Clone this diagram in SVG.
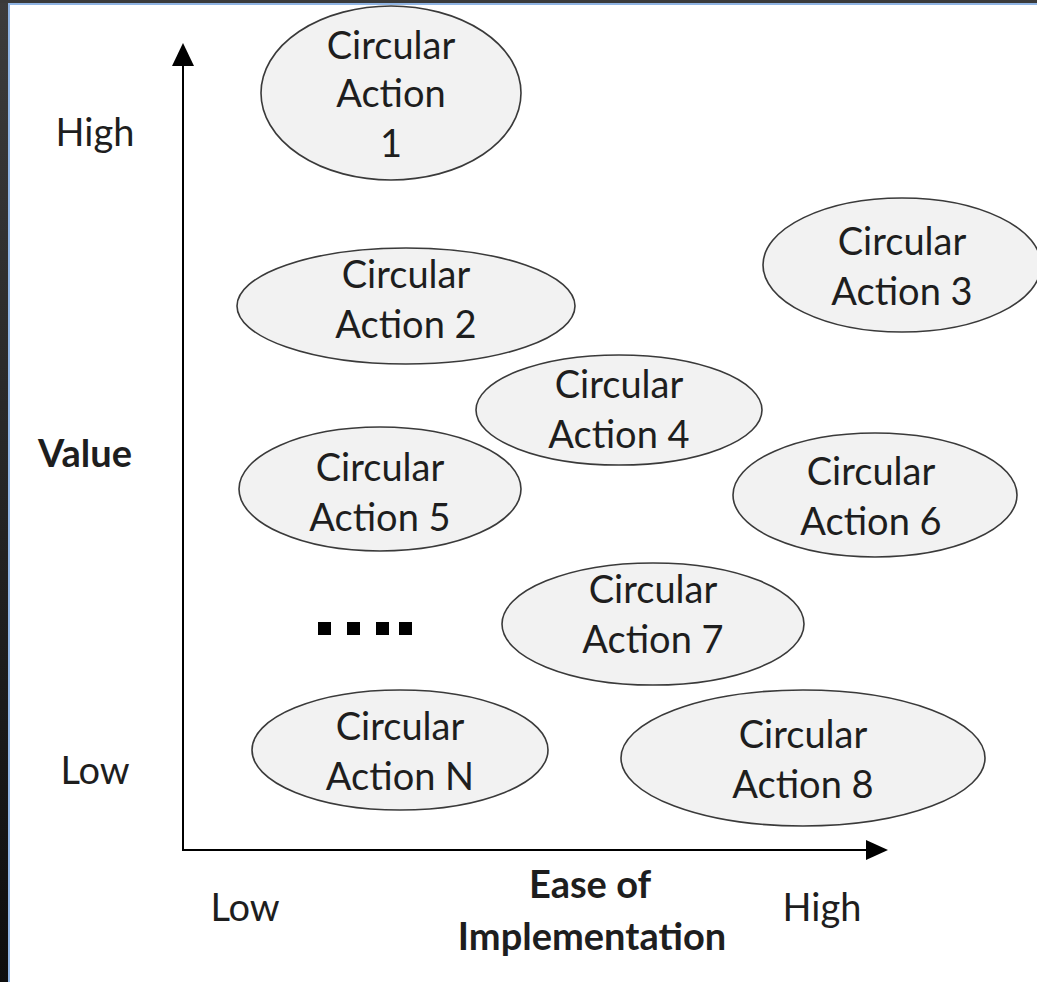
<svg xmlns="http://www.w3.org/2000/svg" width="1037" height="982" viewBox="0 0 1037 982">
<defs>
<style>
.node ellipse{fill:#f2f2f2;stroke:#3a3a3a;stroke-width:1.6}
.t{font-family:Lato,"Open Sans","Liberation Sans",sans-serif;font-size:38px;fill:#1e1e1e;text-anchor:middle}
.b{font-weight:bold}
.axis{stroke:#000;stroke-width:2;fill:none}
</style>
<linearGradient id="lg" x1="0" y1="0" x2="0" y2="1"><stop offset="0" stop-color="#3c3c3c"/><stop offset="1" stop-color="#0e0e0e"/></linearGradient>
</defs>
<rect width="1037" height="982" fill="#fff"/>
<rect x="0" y="0" width="8" height="982" fill="url(#lg)"/>
<rect x="0" y="0" width="1037" height="3" fill="#3a3a3a"/>
<rect x="8" y="3" width="2" height="979" fill="#8fb4e3"/>
<rect x="8" y="3" width="1029" height="2" fill="#8fb4e3"/>
<g id="connectors">
<line class="axis" x1="183" y1="851" x2="183" y2="46"/>
<path d="M172,66L183,43L194,66z" fill="#000"/>
<line class="axis" x1="182" y1="850" x2="868" y2="850"/>
<path d="M866,840L888,850L866,860z" fill="#000"/>
</g>
<g id="labels">
<text class="t" x="95" y="146">High</text>
<text class="t b" x="85" y="467">Value</text>
<text class="t" x="95" y="784">Low</text>
<text class="t" x="245" y="921">Low</text>
<text class="t b" x="590" y="898">Ease of</text>
<text class="t b" x="592" y="950">Implementation</text>
<text class="t" x="822" y="921">High</text>
</g>
<g id="node1" class="node"><ellipse cx="391" cy="93" rx="130" ry="87"/><text class="t" x="391" y="59">Circular</text><text class="t" x="391" y="107">Action</text><text class="t" x="391" y="157">1</text></g>
<g id="node2" class="node"><ellipse cx="406" cy="306" rx="169" ry="58"/><text class="t" x="406" y="288">Circular</text><text class="t" x="406" y="338">Action 2</text></g>
<g id="node3" class="node"><ellipse cx="902" cy="265" rx="139" ry="67"/><text class="t" x="902" y="255">Circular</text><text class="t" x="902" y="305">Action 3</text></g>
<g id="node4" class="node"><ellipse cx="619" cy="410" rx="143" ry="55"/><text class="t" x="619" y="398">Circular</text><text class="t" x="619" y="448">Action 4</text></g>
<g id="node5" class="node"><ellipse cx="380" cy="489" rx="141" ry="62"/><text class="t" x="380" y="481">Circular</text><text class="t" x="380" y="531">Action 5</text></g>
<g id="node6" class="node"><ellipse cx="875" cy="495" rx="142" ry="62"/><text class="t" x="871" y="485">Circular</text><text class="t" x="871" y="535">Action 6</text></g>
<g id="node7" class="node"><ellipse cx="653" cy="624" rx="151" ry="61"/><text class="t" x="653" y="603">Circular</text><text class="t" x="653" y="653">Action 7</text></g>
<g id="node8" class="node"><ellipse cx="803" cy="758" rx="182" ry="68"/><text class="t" x="803" y="748">Circular</text><text class="t" x="803" y="798">Action 8</text></g>
<g id="nodeN" class="node"><ellipse cx="400" cy="750" rx="148" ry="60"/><text class="t" x="400" y="740">Circular</text><text class="t" x="400" y="790">Action N</text></g>
<g id="dots" fill="#000">
<rect x="318" y="622" width="13" height="13"/><rect x="347" y="622" width="13" height="13"/><rect x="376" y="622" width="13" height="13"/><rect x="399" y="622" width="13" height="13"/>
</g>
</svg>
